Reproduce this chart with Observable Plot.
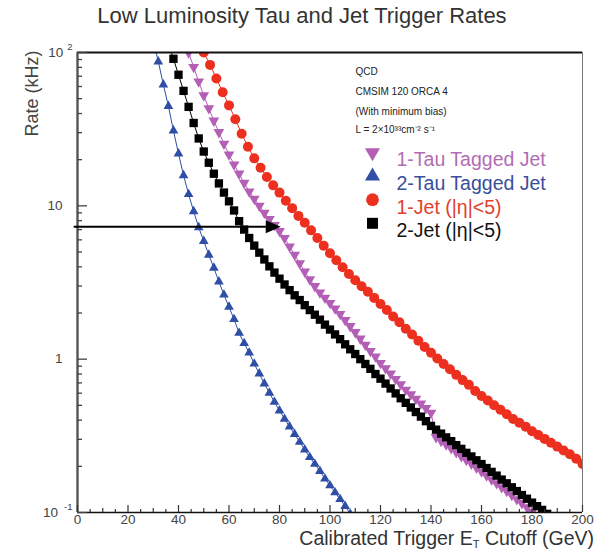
<!DOCTYPE html>
<html>
<head>
<meta charset="utf-8">
<script src="https://cdn.jsdelivr.net/npm/d3@7"></script>
<script src="https://cdn.jsdelivr.net/npm/@observablehq/plot@0.6"></script>
<style>
  body { margin: 0; background: #fff; font-family: "Liberation Sans", Arial, sans-serif; }
  #wrap { position: relative; width: 597px; height: 553px; overflow: hidden; }
  #chart { position: absolute; left: 0; top: 0; }
  #title { position: absolute; left: 0; top: 3px; width: 604px; text-align: center; font-size: 22px; color: #333; }
  #xlabel { position: absolute; right: 3px; top: 527px; font-size: 19.5px; color: #333; white-space: nowrap; }
  #xlabel sub { font-size: 11px; vertical-align: -3px; }
</style>
</head>
<body>
<div id="wrap">
  <div id="chart"></div>
  <div id="title">Low Luminosity Tau and Jet Trigger Rates</div>
  <div id="xlabel">Calibrated Trigger E<sub>T</sub> Cutoff (GeV)</div>
</div>
<script>
// ---- trigger rate curves: calibrated E_T cutoff (GeV) and rate (kHz) ----
const tau1Et = [42, 44, 46, 48, 50, 52, 54, 56, 58, 60, 62, 64, 66, 68, 70, 72, 74, 76, 78, 80,
  82, 84, 86, 88, 90, 92, 94, 96, 98, 100, 102, 104, 106, 108, 110, 112, 114, 116, 118, 120,
  122, 124, 126, 128, 130, 132, 134, 136, 138, 140,
  142, 144, 146, 148, 150, 152, 154, 156, 158, 160, 162, 164, 166, 168, 170, 172, 174, 176, 178, 180, 182];
const tau1Rate = [126, 100, 80.4, 64.6, 52.5, 43.2, 35.9, 30.2, 25.4, 21.6, 18.6, 16.2, 14.1, 12.4, 11.1, 10.0, 9.0, 8.2, 7.5, 6.84,
  6.17, 5.43, 4.79, 4.22, 3.72, 3.31, 2.99, 2.72, 2.51, 2.32, 2.14, 1.97, 1.8, 1.64, 1.5, 1.36, 1.24, 1.13, 1.04, 0.944,
  0.871, 0.804, 0.741, 0.684, 0.631, 0.589, 0.55, 0.513, 0.479, 0.447,
  0.31, 0.293, 0.277, 0.262, 0.247, 0.233, 0.22, 0.208, 0.196, 0.185, 0.174, 0.164, 0.155, 0.146, 0.138, 0.13, 0.122, 0.115, 0.108, 0.101, 0.095];

const tau2Et = [30, 32, 34, 36, 38, 40, 42, 44, 46, 48, 50, 52, 54, 56, 58, 60, 62, 64, 66, 68,
  70, 72, 74, 76, 78, 80, 82, 84, 86, 88, 90, 92, 94, 96, 98, 100, 102, 104, 106, 108];
const tau2Rate = [120, 87.1, 61.7, 44.7, 30.9, 21.9, 15.8, 11.9, 9.2, 7.24, 5.89, 4.79, 3.94, 3.2, 2.63, 2.19, 1.82, 1.48, 1.27, 1.1,
  0.933, 0.804, 0.692, 0.603, 0.525, 0.462, 0.407, 0.363, 0.324, 0.288, 0.257, 0.229, 0.207, 0.186, 0.166, 0.15, 0.135, 0.122, 0.11, 0.098];

const jet1Et = [47.5, 50, 52.5, 55, 57.5, 60, 62.5, 65, 67.5, 70, 72.5, 75, 77.5, 80, 82.5, 85, 87.5, 90, 92.5, 95,
  97.5, 100, 102.5, 105, 107.5, 110, 112.5, 115, 117.5, 120, 122.5, 125, 127.5, 130, 132.5, 135, 137.5, 140, 142.5, 145,
  147.5, 150, 152.5, 155, 157.5, 160, 162.5, 165, 167.5, 170, 172.5, 175, 177.5, 180, 182.5, 185, 187.5, 190, 192.5, 195, 197.5, 200];
const jet1Rate = [123, 100, 83, 67.6, 55, 45.2, 36.7, 29.5, 24.3, 20.4, 17.7, 15.4, 13.6, 12.2, 10.8, 9.66, 8.6, 7.76, 6.92, 6.17,
  5.5, 4.9, 4.42, 3.98, 3.59, 3.27, 2.99, 2.75, 2.51, 2.29, 2.09, 1.9, 1.74, 1.58, 1.45, 1.32, 1.2, 1.1, 1.01, 0.93,
  0.86, 0.79, 0.73, 0.68, 0.62, 0.575, 0.537, 0.5, 0.468, 0.437, 0.407, 0.385, 0.363, 0.339, 0.32, 0.302, 0.285, 0.269, 0.254, 0.24, 0.224, 0.207];

const jet2Et = [36, 38, 40, 42, 44, 46, 48, 50, 52, 54, 56, 58, 60, 62, 64, 66, 68, 70, 72, 74,
  76, 78, 80, 82, 84, 86, 88, 90, 92, 94, 96, 98, 100, 102, 104, 106, 108, 110, 112, 114,
  116, 118, 120, 122, 124, 126, 128, 130, 132, 134, 136, 138, 140, 142, 144, 146, 148, 150, 152, 154,
  156, 158, 160, 162, 164, 166, 168, 170, 172, 174, 176, 178, 180, 182, 184, 186];
const jet2Rate = [115, 91, 71.6, 56.2, 44.2, 34.7, 27.5, 22.6, 19.1, 16.2, 14.0, 12.2, 10.7, 9.33, 7.94, 7.0, 6.17, 5.5, 4.95, 4.47,
  4.03, 3.67, 3.35, 3.07, 2.82, 2.61, 2.43, 2.25, 2.09, 1.95, 1.81, 1.68, 1.56, 1.45, 1.35, 1.25, 1.16, 1.08, 1.0, 0.93,
  0.865, 0.80, 0.746, 0.693, 0.644, 0.598, 0.556, 0.519, 0.484, 0.452, 0.422, 0.394, 0.367, 0.347, 0.327, 0.309, 0.292, 0.275, 0.26, 0.245,
  0.232, 0.219, 0.207, 0.195, 0.184, 0.174, 0.164, 0.155, 0.146, 0.138, 0.13, 0.123, 0.116, 0.11, 0.104, 0.098];

// threshold marker: rate level and the cutoff where the arrow stops
const arrowRate = 7.3;
const arrowEndEt = 80.5;

// axis ticks and labels
const xTickLabels = [0, 20, 40, 60, 80, 100, 120, 140, 160, 180, 200];
const yTickValues = [100, 10, 1, 0.1];
const yTickBase = ["10", "10", "1", "10"];
const yTickExp = ["2", "", "", "-1"];

// legend text
const noteLines = ["QCD", "CMSIM 120 ORCA 4", "(With minimum bias)", "L = 2×10³³cm⁻² s⁻¹"];
const legendNames = ["1-Tau Tagged Jet", "2-Tau Tagged Jet", "1-Jet (|η|<5)", "2-Jet (|η|<5)"];

// ---- layout ----
const W = 597, H = 553;
const M = {top: 52, right: 15, bottom: 41, left: 77};
const innerW = W - M.left - M.right;
const innerH = H - M.top - M.bottom;
const FONT = "Liberation Sans, Arial, Helvetica, sans-serif";

const triDown = {
  draw(ctx, size) {
    const y = -Math.sqrt(size / (Math.sqrt(3) * 3));
    ctx.moveTo(0, -2 * y);
    ctx.lineTo(-Math.sqrt(3) * y, y);
    ctx.lineTo(Math.sqrt(3) * y, y);
    ctx.closePath();
  }
};
const arrowHead = {
  draw(ctx) {
    ctx.moveTo(0, 0);
    ctx.lineTo(-15, -6.5);
    ctx.lineTo(-15, 6.5);
    ctx.closePath();
  }
};

const rows = (et, rate) => et.map((x, i) => ({et: x, rate: rate[i]}));

const series = [
  {data: rows(tau1Et, tau1Rate), color: "#b45fb6", text: "#b26cb4", symbol: triDown, r: 4.0, lr: 5.6},
  {data: rows(tau2Et, tau2Rate), color: "#2f4ea6", text: "#3a4e9c", symbol: "triangle", r: 3.6, lr: 5.6},
  {data: rows(jet1Et, jet1Rate), color: "#ec2f1e", text: "#e2402c", symbol: "circle", r: 5.0, lr: 6.4},
  {data: rows(jet2Et, jet2Rate), color: "#000000", text: "#111111", symbol: "square", r: 4.7, lr: 6.2}
];
const drawOrder = [0, 3, 1, 2];

// tick positions along the axes
const xMinor = d3.range(0, 201, 5);
const yMinor = [];
for (const dec of [0.1, 1, 10]) for (let k = 2; k <= 9; ++k) yMinor.push(+(dec * k).toPrecision(3));

const marks = [];

// curves
for (const i of drawOrder) {
  const s = series[i];
  marks.push(Plot.line(s.data, {x: "et", y: "rate", stroke: s.color, strokeWidth: 1, clip: true}));
  marks.push(Plot.dot(s.data, {x: "et", y: "rate", symbol: s.symbol, r: s.r, fill: s.color, stroke: "none", clip: true}));
}

// frame
marks.push(Plot.ruleX([200], {stroke: "#777", strokeWidth: 1}));
marks.push(Plot.ruleY([100], {stroke: "#111", strokeWidth: 2.2}));
marks.push(Plot.ruleY([0.1], {stroke: "#111", strokeWidth: 1.6}));
marks.push(Plot.ruleX([0], {stroke: "#555", strokeWidth: 2.4}));

// inward ticks on the x axis
marks.push(Plot.ruleX(xMinor.filter(d => d % 10 !== 0), {x: d => d, stroke: "#333", strokeWidth: 1.2, insetTop: innerH - 3}));
marks.push(Plot.ruleX(xMinor.filter(d => d % 10 === 0 && d % 20 !== 0), {x: d => d, stroke: "#333", strokeWidth: 1.2, insetTop: innerH - 4}));
marks.push(Plot.ruleX(xTickLabels, {x: d => d, stroke: "#333", strokeWidth: 1.2, insetTop: innerH - 7}));

// inward ticks on the y axis
marks.push(Plot.ruleY(yMinor, {y: d => d, stroke: "#444", strokeWidth: 1.3, insetRight: innerW - 5}));
marks.push(Plot.ruleY(yTickValues, {y: d => d, stroke: "#444", strokeWidth: 1.3, insetRight: innerW - 10}));

// x tick labels
marks.push(Plot.text(xTickLabels, {
  x: d => d, text: d => String(d), frameAnchor: "bottom", dy: 11,
  fontSize: 13.5, fill: "#444", fontFamily: FONT
}));

// y tick labels with superscript exponents
yTickValues.forEach((v, i) => {
  const exp = yTickExp[i];
  const expW = exp.length * 5.2;
  const baseEnd = exp ? -5 - expW - 4 : -15;
  marks.push(Plot.text([v], {
    y: d => d, text: () => yTickBase[i], frameAnchor: "left", dx: baseEnd,
    textAnchor: "end", fontSize: 13.5, fill: "#444", fontFamily: FONT
  }));
  if (exp) marks.push(Plot.text([v], {
    y: d => d, text: () => exp, frameAnchor: "left", dx: -5, dy: -6,
    textAnchor: "end", fontSize: 9.5, fill: "#444", fontFamily: FONT
  }));
});

// y axis title
marks.push(Plot.text(["Rate (kHz)"], {
  text: d => d, frameAnchor: "top-left", rotate: -90, textAnchor: "end",
  dx: -52, dy: -2, fontSize: 18, fill: "#444", fontFamily: FONT
}));

// threshold arrow
marks.push(Plot.ruleY([arrowRate], {y: d => d, x1: -1.3, x2: arrowEndEt - 4, stroke: "#000", strokeWidth: 2}));
marks.push(Plot.dot([arrowRate], {x: () => arrowEndEt, y: d => d, symbol: arrowHead, fill: "#000", stroke: "none"}));

// run conditions
const noteDy = [15, 35, 55, 73];
noteLines.forEach((t, i) => {
  marks.push(Plot.text([t], {
    text: d => d, frameAnchor: "top-left", dx: 278, dy: noteDy[i],
    textAnchor: "start", fontSize: 10, fill: "#222", fontFamily: FONT
  }));
});

// legend
legendNames.forEach((name, i) => {
  const s = series[i];
  const dy = 100 + i * 23.6;
  marks.push(Plot.dot([name], {
    frameAnchor: "top-left", dx: 295, dy, symbol: s.symbol, r: s.lr, fill: s.color, stroke: "none"
  }));
  marks.push(Plot.text([name], {
    text: d => d, frameAnchor: "top-left", dx: 319, dy,
    textAnchor: "start", fontSize: 19.5, fill: s.text, fontFamily: FONT
  }));
});

const chart = Plot.plot({
  width: W,
  height: H,
  marginTop: M.top,
  marginRight: M.right,
  marginBottom: M.bottom,
  marginLeft: M.left,
  style: {background: "transparent", fontFamily: FONT, overflow: "visible"},
  x: {domain: [0, 200], axis: null},
  y: {type: "log", domain: [0.1, 100], axis: null},
  marks
});
document.getElementById("chart").appendChild(chart);
</script>
</body>
</html>
